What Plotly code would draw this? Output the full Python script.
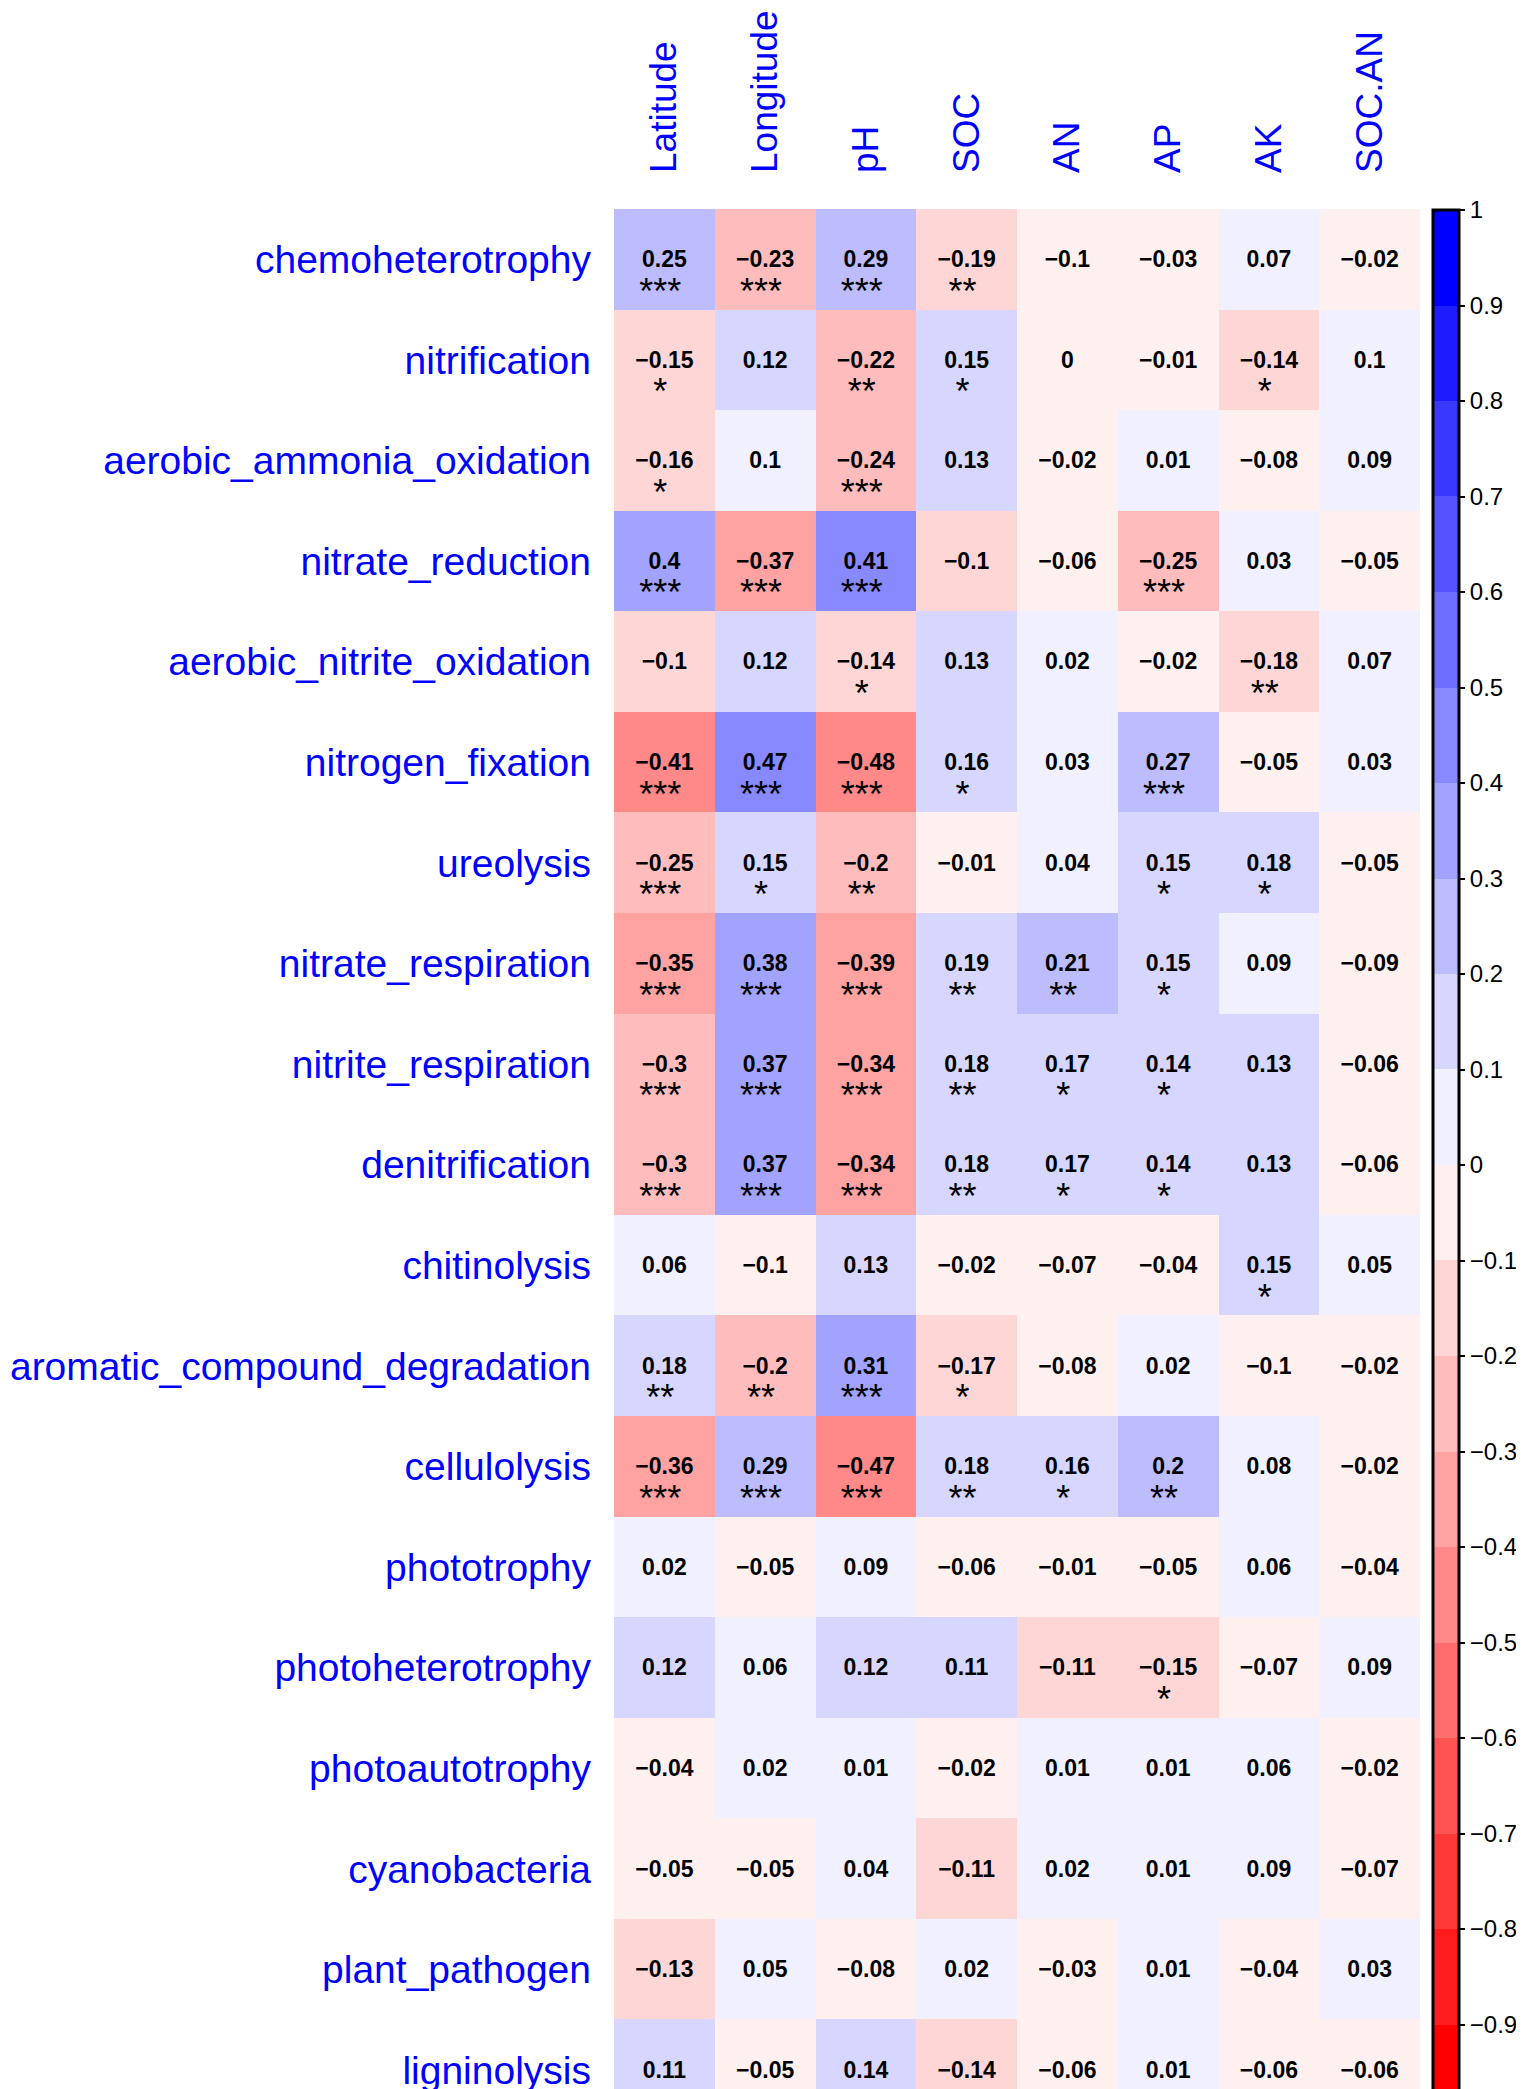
import plotly.graph_objects as go

# soil properties (columns) and functional groups (rows)
columns = ["Latitude", "Longitude", "pH", "SOC", "AN", "AP", "AK", "SOC.AN"]
functions = [
    "chemoheterotrophy", "nitrification", "aerobic_ammonia_oxidation",
    "nitrate_reduction", "aerobic_nitrite_oxidation", "nitrogen_fixation",
    "ureolysis", "nitrate_respiration", "nitrite_respiration",
    "denitrification", "chitinolysis", "aromatic_compound_degradation",
    "cellulolysis", "phototrophy", "photoheterotrophy", "photoautotrophy",
    "cyanobacteria", "plant_pathogen", "ligninolysis",
]

# correlation coefficients (values on the bin edge nudged to match cell colour)
r_values = [
    [0.25, -0.23, 0.29, -0.19, -0.096, -0.03, 0.07, -0.02],
    [-0.15, 0.12, -0.22, 0.15, -0.004, -0.01, -0.14, 0.096],
    [-0.16, 0.096, -0.24, 0.13, -0.02, 0.01, -0.08, 0.09],
    [0.396, -0.37, 0.41, -0.104, -0.06, -0.25, 0.03, -0.05],
    [-0.104, 0.12, -0.14, 0.13, 0.02, -0.02, -0.18, 0.07],
    [-0.41, 0.47, -0.48, 0.16, 0.03, 0.27, -0.05, 0.03],
    [-0.25, 0.15, -0.204, -0.01, 0.04, 0.15, 0.18, -0.05],
    [-0.35, 0.38, -0.39, 0.19, 0.21, 0.15, 0.09, -0.09],
    [-0.296, 0.37, -0.34, 0.18, 0.17, 0.14, 0.13, -0.06],
    [-0.296, 0.37, -0.34, 0.18, 0.17, 0.14, 0.13, -0.06],
    [0.06, -0.096, 0.13, -0.02, -0.07, -0.04, 0.15, 0.05],
    [0.18, -0.204, 0.31, -0.17, -0.08, 0.02, -0.096, -0.02],
    [-0.36, 0.29, -0.47, 0.18, 0.16, 0.204, 0.08, -0.02],
    [0.02, -0.05, 0.09, -0.06, -0.01, -0.05, 0.06, -0.04],
    [0.12, 0.06, 0.12, 0.11, -0.11, -0.15, -0.07, 0.09],
    [-0.04, 0.02, 0.01, -0.02, 0.01, 0.01, 0.06, -0.02],
    [-0.05, -0.05, 0.04, -0.11, 0.02, 0.01, 0.09, -0.07],
    [-0.13, 0.05, -0.08, 0.02, -0.03, 0.01, -0.04, 0.03],
    [0.11, -0.05, 0.14, -0.14, -0.06, 0.01, -0.06, -0.06],
]

# significance marks
signif = [
    ["***", "***", "***", "**", "", "", "", ""],
    ["*", "", "**", "*", "", "", "*", ""],
    ["*", "", "***", "", "", "", "", ""],
    ["***", "***", "***", "", "", "***", "", ""],
    ["", "", "*", "", "", "", "**", ""],
    ["***", "***", "***", "*", "", "***", "", ""],
    ["***", "*", "**", "", "", "*", "*", ""],
    ["***", "***", "***", "**", "**", "*", "", ""],
    ["***", "***", "***", "**", "*", "*", "", ""],
    ["***", "***", "***", "**", "*", "*", "", ""],
    ["", "", "", "", "", "", "*", ""],
    ["**", "**", "***", "*", "", "", "", ""],
    ["***", "***", "***", "**", "*", "**", "", ""],
    ["", "", "", "", "", "", "", ""],
    ["", "", "", "", "", "*", "", ""],
    ["", "", "", "", "", "", "", ""],
    ["", "", "", "", "", "", "", ""],
    ["", "", "", "", "", "", "", ""],
    ["", "", "", "", "", "", "", ""],
]

# colorbar ticks
cbar_ticks = [1, 0.9, 0.8, 0.7, 0.6, 0.5, 0.4, 0.3, 0.2, 0.1, 0,
              -0.1, -0.2, -0.3, -0.4, -0.5, -0.6, -0.7, -0.8, -0.9, -1]

# 20 discrete bins, red -> white -> blue
shade = [0, 28, 56, 83, 110, 136, 162, 188, 214, 240]
bins = [f"rgb(255,{s},{s})" for s in shade] + [f"rgb({s},{s},255)" for s in shade[::-1]]
colorscale = []
for k, c in enumerate(bins):
    colorscale.append([k / 20, c])
    colorscale.append([(k + 1) / 20, c])


def fmt(v):
    v = round(v, 2)
    if v == 0:
        return "0"
    s = f"{abs(v):g}"
    return ("\u2212" + s) if v < 0 else s


FONT = "Liberation Sans, Arial, sans-serif"
nrow, ncol = len(functions), len(columns)

# the page body adds an 8px offset, so the figure is 8px smaller on each side
W, H = 1516, 2081
ML, MT, MR = 606, 201, 104
plot_w = W - ML - MR
plot_h = H - MT

fig = go.Figure()
fig.add_trace(go.Heatmap(
    z=r_values,
    x=list(range(ncol)),
    y=list(range(nrow)),
    zmin=-1, zmax=1,
    colorscale=colorscale,
    hoverinfo="skip",
    colorbar=dict(
        x=(1425 - ML) / plot_w, xanchor="left", xpad=0,
        y=1 - 1 / plot_h, yanchor="top", ypad=0,
        lenmode="pixels", len=1910,
        thickness=26,
        outlinewidth=3, outlinecolor="black",
        tickmode="array", tickvals=cbar_ticks,
        ticktext=[fmt(t) for t in cbar_ticks],
        ticks="outside", ticklen=5, tickwidth=2, tickcolor="black",
        tickfont=dict(family=FONT, size=24, color="black"),
    ),
))

xs, ys, labels, sx, sy, stars = [], [], [], [], [], []
for i in range(nrow):
    for j in range(ncol):
        xs.append(j)
        ys.append(i + 0.02)
        labels.append(fmt(r_values[i][j]))
        if signif[i][j]:
            sx.append(j - 0.04)
            sy.append(i + 0.35)
            stars.append(signif[i][j])

fig.add_trace(go.Scatter(
    x=xs, y=ys, mode="text", text=labels, textposition="middle center",
    textfont=dict(family=FONT, size=23, color="black", weight="bold"),
    hoverinfo="skip", showlegend=False,
))
fig.add_trace(go.Scatter(
    x=sx, y=sy, mode="text", text=stars, textposition="middle center",
    textfont=dict(family=FONT, size=36, color="black"),
    hoverinfo="skip", showlegend=False,
))

fig.update_layout(
    width=W, height=H,
    margin=dict(l=ML, r=MR, t=MT, b=0, autoexpand=False),
    paper_bgcolor="white", plot_bgcolor="white",
    showlegend=False,
    xaxis=dict(
        side="top", range=[-0.5, ncol - 0.5],
        tickmode="array", tickvals=list(range(ncol)), ticktext=columns,
        tickangle=-90, ticks="", ticklabelstandoff=35,
        tickfont=dict(family=FONT, size=37, color="blue"),
        showgrid=False, zeroline=False, showline=False,
    ),
    yaxis=dict(
        range=[18.188, -0.5],
        tickmode="array", tickvals=list(range(nrow)), ticktext=functions,
        ticks="", ticklabelstandoff=22, ticklabeloverflow="allow",
        tickfont=dict(family=FONT, size=39, color="blue"),
        showgrid=False, zeroline=False, showline=False,
    ),
)

fig.write_html("out.html")
